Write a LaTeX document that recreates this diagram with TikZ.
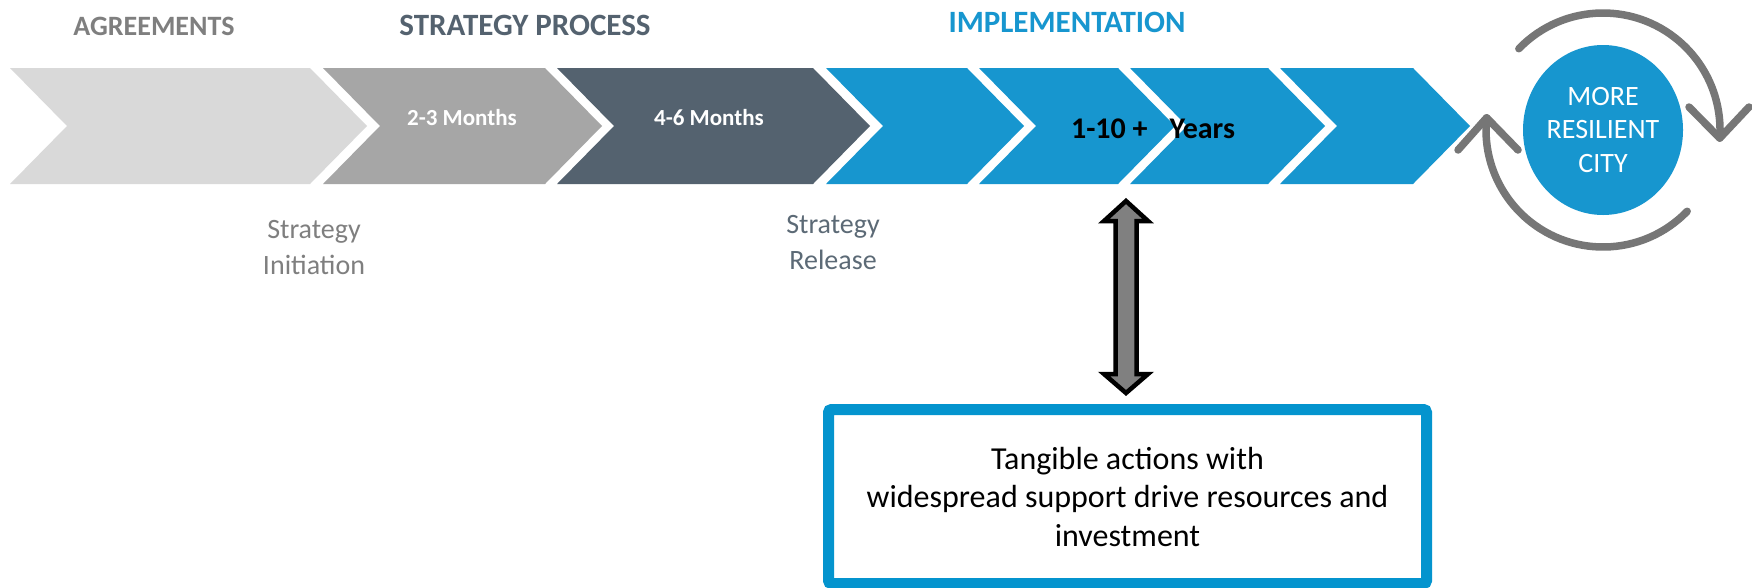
\documentclass[tikz,border=0pt]{standalone}
\usepackage{fontspec}
\setmainfont{Carlito}
\usetikzlibrary{shapes.geometric}
\definecolor{cLight}{RGB}{217,217,217}
\definecolor{cMid}{RGB}{166,166,166}
\definecolor{cSlate}{RGB}{84,98,111}
\definecolor{cBlue}{RGB}{23,150,207}
\definecolor{cBoxBlue}{RGB}{4,148,206}
\definecolor{cGrayTxt}{RGB}{127,127,127}
\definecolor{cRelease}{RGB}{92,106,118}
\definecolor{cArc}{RGB}{118,118,118}
\definecolor{cArrow}{RGB}{128,128,128}
\newcommand{\chevron}[3]{%
  \fill[#3] (#1,68) -- (#2,68) -- ({#2+57},126) -- (#2,184) -- (#1,184) -- ({#1+57},126) -- cycle;}
\begin{document}
\begin{tikzpicture}[x=1pt,y=-1pt,
  headtxt/.style={font=\bfseries\fontsize{31}{37}\selectfont, inner sep=0pt, anchor=base},
  montxt/.style={font=\bfseries\fontsize{23}{28}\selectfont, text=white, inner sep=0pt, anchor=base},
  sidetxt/.style={font=\fontsize{28}{34}\selectfont, inner sep=0pt, anchor=base},
  cyc/.style={draw=cArc, line width=7.5pt, line cap=round, line join=round}]
\useasboundingbox (0,0) rectangle (1752,587);
\fill[white] (0,0) rectangle (1752,587);
% chevrons
\chevron{10}{310}{cLight}
\chevron{323}{545}{cMid}
\chevron{557}{813}{cSlate}
\chevron{826}{967}{cBlue}
\chevron{979}{1118}{cBlue}
\chevron{1130}{1268}{cBlue}
\chevron{1280}{1413}{cBlue}
% headings
\node[headtxt, text=cGrayTxt, font=\bfseries\fontsize{28}{34}\selectfont] (agr) at (154,35) {AGREEMENTS};
\node[headtxt, text=cSlate] (sproc) at (525,35) {STRATEGY PROCESS};
\node[headtxt, text=cBlue] (impl) at (1067,32) {IMPLEMENTATION};
% chevron labels
\node[montxt] (m23) at (462,125) {2-3 Months};
\node[montxt] (m46) at (709,125) {4-6 Months};
\node[inner sep=0pt, anchor=base, font=\bfseries\fontsize{30}{36}\selectfont] (yrs) at (1153,138) {1-10 +\hspace{22pt}Years};
% side labels
\node[sidetxt, text=cGrayTxt] (ini1) at (314,238) {Strategy};
\node[sidetxt, text=cGrayTxt] (ini2) at (314,274) {Initiation};
\node[sidetxt, text=cRelease] (rel1) at (833,233) {Strategy};
\node[sidetxt, text=cRelease] (rel2) at (833,269) {Release};
% city
\node[ellipse, fill=cBlue, minimum width=160pt, minimum height=170pt, inner sep=0pt, text=white, align=center, font=\fontsize{28}{33.5}\selectfont] (city) at (1603,130) {MORE\\RESILIENT\\CITY};
\draw[cyc] (city.center) ++(136:117pt) arc[start angle=136, end angle=-4, radius=117pt] coordinate (t1);
\draw[cyc] (1689,107) -- (t1) -- (1749,107);
\draw[cyc] (city.center) ++(-44:117pt) arc[start angle=-44, end angle=-186, radius=117pt] coordinate (t2);
\draw[cyc] (1458,150) -- (t2) -- (1518,150);
% box
\node[draw=cBoxBlue, fill=white, line width=11pt, rounded corners=3pt, minimum width=598pt, minimum height=174pt, inner sep=0pt, align=center, font=\fontsize{32}{38.5}\selectfont] (box) at (1127.5,496.5) {Tangible actions with\\widespread support drive resources and\\investment};
% double arrow
\filldraw[fill=cArrow, draw=black, line width=4.5pt, line join=miter] (1126,201) -- (1148,221) -- (1136.5,221) -- (1136.5,374) -- (1148,374) -- (1126,393) -- (1104,374) -- (1115.5,374) -- (1115.5,221) -- (1104,221) -- cycle;
\end{tikzpicture}
\end{document}
